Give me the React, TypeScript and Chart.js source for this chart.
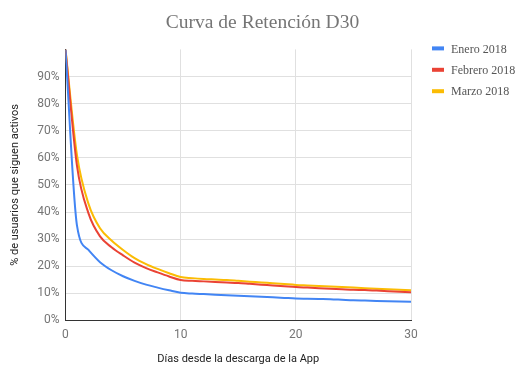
import React, { useEffect, useRef } from "react";
import { Chart, registerables } from "chart.js";

Chart.register(...registerables);

const TITLE = "Curva de Retención D30";
const X_TITLE = "Días desde la descarga de la App";
const Y_TITLE = "% de usuarios que siguen activos";

const days = [
  0, 1, 2, 3, 4, 5, 6, 7, 8, 9, 10, 11, 12, 13, 14, 15, 16, 17, 18, 19, 20,
  21, 22, 23, 24, 25, 26, 27, 28, 29, 30,
];

const enero2018 = [
  100, 35, 26, 21.5, 18.5, 16.3, 14.6, 13.2, 12.1, 11.1, 10.2, 9.9, 9.7, 9.5,
  9.3, 9.1, 8.9, 8.7, 8.5, 8.3, 8.1, 8.0, 7.9, 7.8, 7.6, 7.4, 7.3, 7.2, 7.1,
  7.0, 6.9,
];

const febrero2018 = [
  100, 57, 39.5, 31, 27, 24, 21.3, 19.3, 17.7, 16.2, 14.9, 14.6, 14.4, 14.2,
  14.0, 13.8, 13.5, 13.2, 12.9, 12.6, 12.3, 12.1, 11.9, 11.7, 11.5, 11.3,
  11.2, 11.0, 10.8, 10.6, 10.4,
];

const marzo2018 = [
  100, 61, 43, 34, 29.5, 26, 23, 20.8, 19, 17.4, 16.0, 15.6, 15.3, 15.1,
  14.9, 14.6, 14.3, 14.0, 13.7, 13.4, 13.1, 12.9, 12.7, 12.5, 12.3, 12.1,
  11.9, 11.7, 11.5, 11.3, 11.1,
];

const seriesNames = ["Enero 2018", "Febrero 2018", "Marzo 2018"];
const seriesColors = ["#4285F4", "#EA4335", "#FBBC04"];

const sideLegend = {
  id: "sideLegend",
  afterDraw(chart: any) {
    const { ctx, chartArea } = chart;
    ctx.save();
    ctx.font = "12px 'Liberation Serif', serif";
    ctx.textBaseline = "middle";
    ctx.textAlign = "left";
    chart.data.datasets.forEach((ds: any, i: number) => {
      const x0 = chartArea.right + 21;
      const y = chartArea.top - 1 + i * 21.4;
      ctx.fillStyle = ds.borderColor;
      ctx.fillRect(x0, y - 2, 12, 4);
      ctx.fillStyle = "#555555";
      ctx.fillText(ds.label, x0 + 19, y + 1);
    });
    ctx.restore();
  },
};

export default function App() {
  const canvasRef = useRef<HTMLCanvasElement | null>(null);

  useEffect(() => {
    if (!canvasRef.current) return;
    const seriesValues = [enero2018, febrero2018, marzo2018];
    const chart = new Chart(canvasRef.current, {
      type: "line",
      data: {
        datasets: seriesValues.map((vals, i) => ({
          label: seriesNames[i],
          data: days.map((d, j) => ({ x: d, y: vals[j] })),
          borderColor: seriesColors[i],
          backgroundColor: seriesColors[i],
          borderWidth: 2,
          pointRadius: 0,
          fill: false,
          cubicInterpolationMode: "monotone" as const,
        })),
      },
      plugins: [sideLegend],
      options: {
        animation: false,
        responsive: true,
        maintainAspectRatio: false,
        layout: { padding: { top: 9, right: 6, bottom: 6, left: 6 } },
        plugins: {
          title: {
            display: true,
            text: TITLE,
            color: "#757575",
            font: { family: "'Liberation Serif', serif", size: 19.5, weight: "normal" },
            padding: { top: 2, bottom: 15 },
          },
          legend: { display: false },
          tooltip: { enabled: false },
        },
        scales: {
          x: {
            type: "linear",
            min: 0,
            max: 30,
            border: { color: "#333333", width: 1 },
            grid: { color: "#e0e0e0", drawTicks: false, lineWidth: 1 },
            ticks: {
              stepSize: 10,
              color: "#757575",
              padding: 7,
              font: { family: "Roboto, sans-serif", size: 12 },
            },
            title: {
              display: true,
              text: X_TITLE,
              color: "#222222",
              font: { family: "Roboto, sans-serif", size: 11 },
              padding: { top: 4, bottom: 1 },
            },
          },
          y: {
            min: 0,
            max: 100,
            border: { color: "#333333", width: 1 },
            grid: {
              drawTicks: false,
              lineWidth: 1,
              color: (ctx: any) =>
                ctx.tick && ctx.tick.value === 100 ? "rgba(0,0,0,0)" : "#e0e0e0",
            },
            ticks: {
              stepSize: 10,
              color: "#757575",
              padding: 6,
              font: { family: "Roboto, sans-serif", size: 12 },
              callback: (v: any) => (Number(v) === 100 ? "" : v + "%"),
            },
            title: {
              display: true,
              text: Y_TITLE,
              color: "#222222",
              font: { family: "Roboto, sans-serif", size: 11 },
              padding: { top: 3, bottom: 9 },
            },
          },
          legendSpace: {
            type: "linear",
            position: "right",
            display: true,
            grid: { display: false },
            border: { display: false },
            ticks: { display: false },
            afterFit: (s: any) => {
              s.width = 108;
            },
          },
        },
      },
    });
    return () => chart.destroy();
  }, []);

  return (
    <div
      style={{
        position: "fixed",
        left: 0,
        top: 0,
        width: 525,
        height: 373,
        background: "#ffffff",
      }}
    >
      <canvas ref={canvasRef} />
    </div>
  );
}
